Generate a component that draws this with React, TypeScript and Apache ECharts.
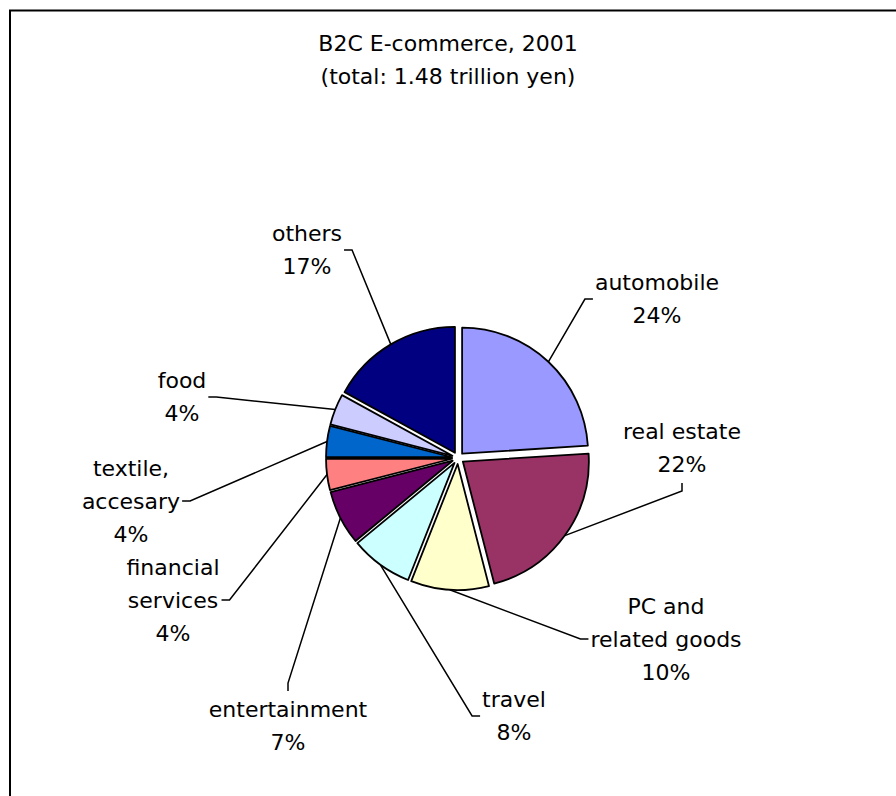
import React, { useEffect, useRef } from "react";
import * as echarts from "echarts";

// ---- data ----
const titleLines = ["B2C E-commerce, 2001", "(total: 1.48 trillion yen)"];
const categories = [
  "automobile",
  "real estate",
  "PC and\nrelated goods",
  "travel",
  "entertainment",
  "financial\nservices",
  "textile,\naccesary",
  "food",
  "others",
];
const shares = [24, 22, 10, 8, 7, 4, 4, 4, 17];
const sliceColors = [
  "#9999FF",
  "#993366",
  "#FFFFCC",
  "#CCFFFF",
  "#660066",
  "#FF8080",
  "#0066CC",
  "#CCCCFF",
  "#000080",
];

// ---- layout / style ----
const FONT = "'DejaVu Sans', 'Liberation Sans', Arial, sans-serif";
const FONT_SIZE = 22;
const LINE_HEIGHT = 33;
const CX = 458;
const CY = 458;
const R = 126;
const EXPLODE = 6;
const STUB = 8;
const GAP = 2;
type Side = "left" | "right" | "top" | "bottom";
const labelPlacement: { x: number; y: number; side: Side }[] = [
  { x: 657, y: 299, side: "left" },
  { x: 682, y: 448, side: "bottom" },
  { x: 666, y: 639, side: "left" },
  { x: 514, y: 716, side: "left" },
  { x: 288, y: 726, side: "top" },
  { x: 173, y: 600, side: "right" },
  { x: 131, y: 501, side: "right" },
  { x: 182, y: 397, side: "right" },
  { x: 307, y: 250, side: "right" },
];

export default function App() {
  const ref = useRef<HTMLDivElement>(null);

  useEffect(() => {
    const chart = echarts.init(ref.current!, null, { renderer: "svg" });
    const total = shares.reduce((a, b) => a + b, 0);
    let acc = 0;
    const series = shares.map((v, i) => {
      const a0 = (acc / total) * 360;
      acc += v;
      const a1 = (acc / total) * 360;
      const mid = (((a0 + a1) / 2) * Math.PI) / 180;
      const cx = CX + EXPLODE * Math.sin(mid);
      const cy = CY - EXPLODE * Math.cos(mid);
      const edge = [cx + R * Math.sin(mid), cy - R * Math.cos(mid)];
      const place = labelPlacement[i];
      return {
        type: "pie",
        silent: true,
        center: [cx, cy],
        radius: R,
        startAngle: 90 - a0,
        endAngle: 90 - a1,
        clockwise: true,
        avoidLabelOverlap: false,
        emphasis: { disabled: true },
        data: [
          {
            name: categories[i],
            value: v,
            itemStyle: {
              color: sliceColors[i],
              borderColor: "#000",
              borderWidth: 1.8,
            },
          },
        ],
        label: {
          show: true,
          position: "outside",
          formatter: (p: any) => `${p.name}\n${p.value}%`,
          fontFamily: FONT,
          fontSize: FONT_SIZE,
          lineHeight: LINE_HEIGHT,
          color: "#000",
          align: "center",
        },
        labelLine: {
          show: true,
          smooth: false,
          lineStyle: { color: "#000", width: 1.5 },
        },
        labelLayout: (p: any) => {
          const w = p.labelRect.width;
          const h = p.labelRect.height;
          let ax = place.x;
          let ay = place.y;
          let sx = ax;
          let sy = ay;
          if (place.side === "left") {
            ax = place.x - w / 2 - GAP;
            sx = ax - STUB;
          } else if (place.side === "right") {
            ax = place.x + w / 2 + GAP;
            sx = ax + STUB;
          } else if (place.side === "top") {
            ay = place.y - h / 2 - GAP;
            sy = ay - STUB;
          } else {
            ay = place.y + h / 2 + GAP;
            sy = ay + STUB;
          }
          return {
            x: place.x,
            y: place.y,
            align: "center",
            verticalAlign: "middle",
            labelLinePoints: [edge, [sx, sy], [ax, ay]],
          };
        },
      };
    });

    chart.setOption({
      animation: false,
      backgroundColor: "#fff",
      title: {
        text: titleLines.join("\n"),
        left: "center",
        top: 22,
        textStyle: {
          fontFamily: FONT,
          fontSize: FONT_SIZE,
          fontWeight: "normal",
          lineHeight: LINE_HEIGHT,
          color: "#000",
          align: "center",
        },
      },
      graphic: [
        {
          type: "rect",
          silent: true,
          z: -10,
          shape: { x: 10, y: 10.5, width: 1000, height: 1000 },
          style: { fill: "none", stroke: "#000", lineWidth: 2 },
        },
      ],
      series,
    });

    return () => chart.dispose();
  }, []);

  return (
    <div
      ref={ref}
      style={{ position: "absolute", left: 0, top: 0, width: 896, height: 796 }}
    />
  );
}
